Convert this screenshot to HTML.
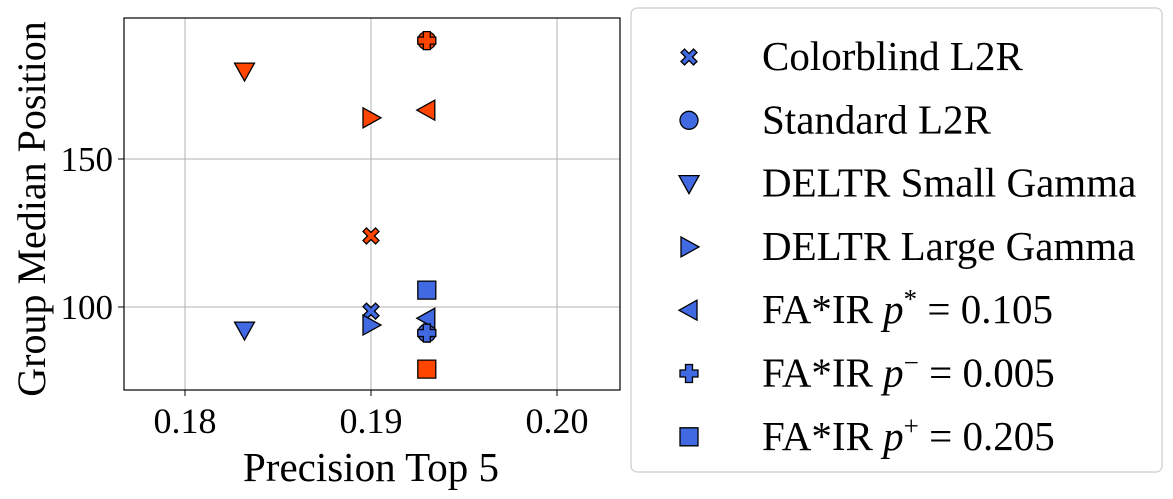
<!DOCTYPE html>
<html><head><meta charset="utf-8"><style>
body{margin:0;background:#fff;}
svg{display:block;font-family:"Liberation Serif",serif;}
</style></head><body>
<svg id="chart" width="1173" height="499">
<g id="grid"></g>
<rect x="124" y="18" width="496" height="372" fill="none" stroke="#000" stroke-width="1.2"/>
<g id="ticks"></g>
<g id="marks"></g>
<text x="371" y="481" font-size="41" text-anchor="middle">Precision Top 5</text>
<text transform="translate(45,209) rotate(-90)" font-size="40" text-anchor="middle">Group Median Position</text>
<rect x="631" y="8" width="531" height="464" rx="6" fill="#fff" stroke="#ccc" stroke-width="1.2"/>
<g id="legend"></g>
</svg>
<script>
const series = ["x","o","v",">","<","P","s"];
const labels = ["Colorblind L2R","Standard L2R","DELTR Small Gamma","DELTR Large Gamma","FA*IR <tspan font-style='italic'>p</tspan><tspan dy='-15' font-size='27'>*</tspan><tspan dy='15'> = 0.105</tspan>","FA*IR <tspan font-style='italic'>p</tspan><tspan dy='-15' font-size='27'>−</tspan><tspan dy='15'> = 0.005</tspan>","FA*IR <tspan font-style='italic'>p</tspan><tspan dy='-15' font-size='27'>+</tspan><tspan dy='15'> = 0.205</tspan>"];
const precision = [0.190,0.193,0.1832,0.190,0.193,0.193,0.193];
const protectedPos = [124,190,179.7,163.9,166.5,190,79];
const nonProtectedPos = [98.6,91.2,92.2,93.9,96.2,91.2,105.7];
const xTicks = [0.18,0.19,0.20];
const yTicks = [100,150];
const NS="http://www.w3.org/2000/svg";
const X = v => 185 + (v-0.18)/0.01*186;
const Y = v => 307 - (v-100)*2.96;
function mk(tag,attrs,parent){const e=document.createElementNS(NS,tag);for(const k in attrs)e.setAttribute(k,attrs[k]);parent.appendChild(e);return e;}
const grid=document.getElementById('grid'),ticks=document.getElementById('ticks'),marks=document.getElementById('marks'),legend=document.getElementById('legend');
xTicks.forEach(t=>{
  const l=mk('line',{x1:X(t),x2:X(t),y1:18,y2:390,stroke:'#b0b0b0','stroke-width':1},grid);
  
  
  mk('line',{x1:X(t),x2:X(t),y1:390,y2:396,stroke:'#000'},ticks);
  const tx=mk('text',{x:X(t),y:433,'font-size':36,'text-anchor':'middle'},ticks);tx.textContent=t.toFixed(2);
  
  
});
yTicks.forEach(t=>{
  const l=mk('line',{x1:124,x2:620,y1:Y(t),y2:Y(t),stroke:'#b0b0b0','stroke-width':1},grid);
  
  
  mk('line',{x1:118,x2:124,y1:Y(t),y2:Y(t),stroke:'#000'},ticks);
  const tx=mk('text',{x:113,y:Y(t)+12,'font-size':35,'text-anchor':'end'},ticks);tx.textContent=t;
  
  
});
function marker(type,cx,cy,fill,parent){
  const s=9;let d;
  switch(type){
    case 'o': return mk('circle',{cx,cy,r:9,fill,stroke:'#000','stroke-width':1.3},parent);
    case 's': d=`M${cx-s} ${cy-s}h${2*s}v${2*s}h${-2*s}z`;break;
    case 'v': d=`M${cx-10} ${cy-8}L${cx+10} ${cy-8}L${cx} ${cy+10}z`;break;
    case '>': d=`M${cx-8} ${cy-10}L${cx+10} ${cy}L${cx-8} ${cy+10}z`;break;
    case '<': d=`M${cx+8} ${cy-10}L${cx-10} ${cy}L${cx+8} ${cy+10}z`;break;
    case 'P': {const a=3.5,b=9;d=`M${cx-a} ${cy-b}h${2*a}v${b-a}h${b-a}v${2*a}h${a-b}v${b-a}h${-2*a}v${a-b}h${a-b}v${-2*a}h${b-a}z`;break;}
    case 'x': {const p=[[0,-3.5],[4.5,-8],[8,-4.5],[3.5,0],[8,4.5],[4.5,8],[0,3.5],[-4.5,8],[-8,4.5],[-3.5,0],[-8,-4.5],[-4.5,-8]];d='M'+p.map(q=>(cx+q[0])+' '+(cy+q[1])).join('L')+'z';break;}
  }
  return mk('path',{d,fill,stroke:'#000','stroke-width':1.3,'stroke-linejoin':'miter'},parent);
}
series.forEach((m,i)=>{
  const a=marker(m,X(precision[i]),Y(nonProtectedPos[i]),'#4169e1',marks);
  
  
  const b=marker(m,X(precision[i]),Y(protectedPos[i]),'#ff4500',marks);
  
  
  const ly=57+i*63.3;
  const lm=marker(m,689,ly,'#4169e1',legend);
  
  
  const t=mk('text',{x:762,y:ly+13,'font-size':41},legend);t.innerHTML=labels[i];
  
  
});
</script>
</body></html>
